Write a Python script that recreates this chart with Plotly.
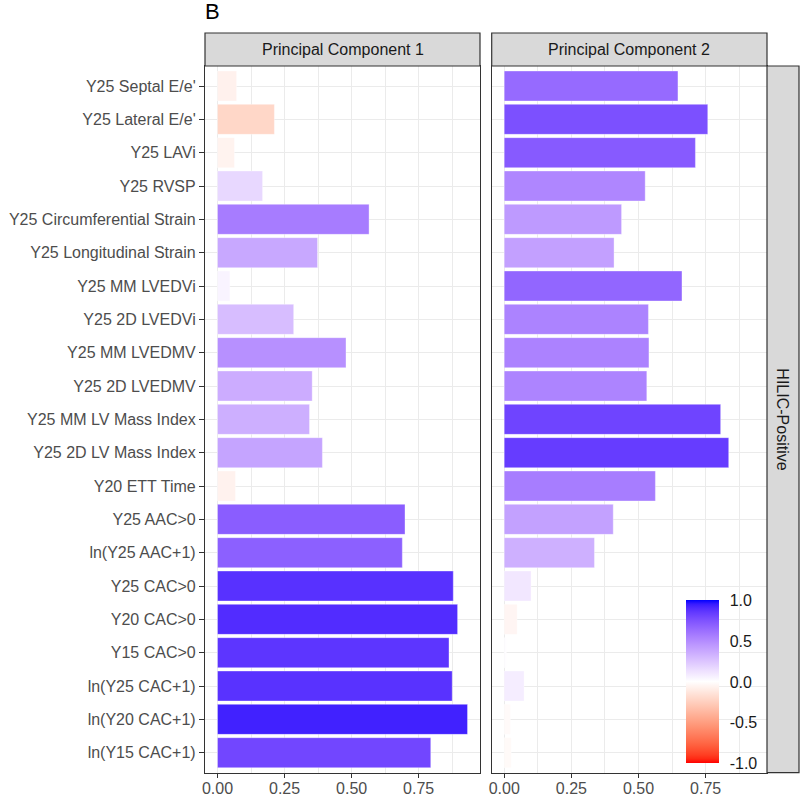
import plotly.graph_objects as go
import numpy as np

# loadings (signed; bar length = |loading|)
variables = ["Y25 Septal E/e'", "Y25 Lateral E/e'", "Y25 LAVi", "Y25 RVSP",
             "Y25 Circumferential Strain", "Y25 Longitudinal Strain",
             "Y25 MM LVEDVi", "Y25 2D LVEDVi", "Y25 MM LVEDMV", "Y25 2D LVEDMV",
             "Y25 MM LV Mass Index", "Y25 2D LV Mass Index", "Y20 ETT Time",
             "Y25 AAC>0", "ln(Y25 AAC+1)", "Y25 CAC>0", "Y20 CAC>0", "Y15 CAC>0",
             "ln(Y25 CAC+1)", "ln(Y20 CAC+1)", "ln(Y15 CAC+1)"]
pc1 = [-0.071, -0.212, -0.063, 0.168, 0.565, 0.373, 0.046, 0.284, 0.479, 0.353,
       0.343, 0.391, -0.067, 0.699, 0.689, 0.879, 0.895, 0.863, 0.875, 0.932, 0.795]
pc2 = [0.647, 0.758, 0.712, 0.525, 0.437, 0.409, 0.662, 0.537, 0.539, 0.531,
       0.806, 0.836, 0.563, 0.406, 0.336, 0.100, -0.048, 0.008, 0.074, -0.023, -0.026]
panels = ["Principal Component 1", "Principal Component 2"]
row_strip = "HILIC-Positive"
cbar_vals = [-1, -0.5, 0, 0.5, 1]
cbar_text = ["-1.0", "-0.5", "0.0", "0.5", "1.0"]
x_ticks = [0, 0.25, 0.5, 0.75]
x_text = ["0.00", "0.25", "0.50", "0.75"]

W, H = 800, 796
FONT = "Liberation Sans, Arial, sans-serif"


# red - white - blue gradient interpolated in Lab (like ggplot's gradient2)
def to_lab(rgb):
    c = np.array(rgb) / 255.0
    c = np.where(c > 0.04045, ((c + 0.055) / 1.055) ** 2.4, c / 12.92)
    m = np.array([[0.4124, 0.3576, 0.1805], [0.2126, 0.7152, 0.0722], [0.0193, 0.1192, 0.9505]])
    xyz = m @ c / np.array([0.95047, 1.0, 1.08883])
    f = np.where(xyz > 0.008856, np.cbrt(xyz), 7.787 * xyz + 16 / 116)
    return np.array([116 * f[1] - 16, 500 * (f[0] - f[1]), 200 * (f[1] - f[2])])


def from_lab(lab):
    fy = (lab[0] + 16) / 116
    f = np.array([fy + lab[1] / 500, fy, fy - lab[2] / 200])
    xyz = np.where(f ** 3 > 0.008856, f ** 3, (f - 16 / 116) / 7.787) * np.array([0.95047, 1.0, 1.08883])
    m = np.array([[3.2406, -1.5372, -0.4986], [-0.9689, 1.8758, 0.0415], [0.0557, -0.2040, 1.0570]])
    c = m @ xyz
    c = np.where(c > 0.0031308, 1.055 * np.clip(c, 0, None) ** (1 / 2.4) - 0.055, 12.92 * c)
    c = np.clip(c, 0, 1) * 255
    return "rgb(%d,%d,%d)" % tuple(np.round(c).astype(int))


red, white, blue = to_lab((255, 0, 0)), to_lab((255, 255, 255)), to_lab((0, 0, 255))
cscale = []
for s in np.linspace(0, 1, 41):
    if s < 0.5:
        lab = red + (white - red) * (s / 0.5)
    else:
        lab = white + (blue - white) * ((s - 0.5) / 0.5)
    cscale.append([float(s), from_lab(lab)])

# panel geometry (window pixels)
py0, py1 = 66, 772.7
p1x = (205, 480)
p2x = (491.7, 767)
strip_top = 33


def px(x):
    return x / W


def py(y):
    return 1 - y / H


fig = go.Figure()
fig.add_trace(go.Bar(
    y=variables, x=np.abs(pc1), orientation="h", xaxis="x", yaxis="y",
    marker=dict(color=pc1, colorscale=cscale, cmin=-1, cmax=1, showscale=True,
                line=dict(color="rgba(255,255,255,0.35)", width=1),
                colorbar=dict(x=px(685.7), xanchor="left", xpad=0, ypad=0,
                              y=py((600.7 + 763.3) / 2), yanchor="middle",
                              len=163 / H, lenmode="fraction", thickness=33,
                              outlinewidth=0, tickvals=cbar_vals, ticktext=cbar_text,
                              ticks="outside", ticklen=8, tickcolor="rgba(0,0,0,0)",
                              tickfont=dict(size=16, color="#1a1a1a", family=FONT))),
    hoverinfo="x+y", showlegend=False))
fig.add_trace(go.Bar(
    y=variables, x=np.abs(pc2), orientation="h", xaxis="x2", yaxis="y2",
    marker=dict(color=pc2, colorscale=cscale, cmin=-1, cmax=1, showscale=False,
                line=dict(color="rgba(255,255,255,0.35)", width=1)),
    hoverinfo="x+y", showlegend=False))

xr = [-0.0466, 0.9786]
yr = [len(variables) - 0.4, -0.6]
xcommon = dict(range=xr, tickvals=x_ticks, ticktext=x_text, showgrid=True,
               gridcolor="#EBEBEB", gridwidth=1.3, zeroline=False,
               minor=dict(tickvals=[0.125, 0.375, 0.625, 0.875], showgrid=True,
                          gridcolor="#EBEBEB", gridwidth=0.7, ticks=""),
               showline=True, mirror=True, linecolor="#333333", linewidth=1.2,
               ticks="outside", ticklen=4, tickwidth=1.2, tickcolor="#333333",
               ticklabelstandoff=-3,
               tickfont=dict(size=16, color="#4d4d4d", family=FONT),
               automargin=False, fixedrange=True)
ycommon = dict(range=yr, type="category", categoryorder="array", categoryarray=variables,
               showgrid=True, gridcolor="#EBEBEB", gridwidth=1.3, zeroline=False,
               showline=True, mirror=True, linecolor="#333333", linewidth=1.2,
               domain=[py(py1), py(py0)], automargin=False, fixedrange=True)

fig.update_layout(
    width=W, height=H, margin=dict(l=0, r=0, t=0, b=0),
    template="none", plot_bgcolor="white", paper_bgcolor="white",
    bargap=0.1, font=dict(family=FONT),
    xaxis=dict(domain=[px(p1x[0]), px(p1x[1])], anchor="y", **xcommon),
    xaxis2=dict(domain=[px(p2x[0]), px(p2x[1])], anchor="y2", **xcommon),
    yaxis=dict(anchor="x", ticks="outside", ticklen=5, tickwidth=1.2, tickcolor="#333333",
               tickfont=dict(size=16, color="#4d4d4d", family=FONT), **ycommon),
    yaxis2=dict(anchor="x2", ticks="", showticklabels=False, **ycommon),
)

# facet strips
shapes = []
ann = []
for name, (x0, x1) in zip(panels, [p1x, p2x]):
    shapes.append(dict(type="rect", xref="paper", yref="paper", x0=px(x0), x1=px(x1),
                       y0=py(py0), y1=py(strip_top), fillcolor="#D9D9D9",
                       line=dict(color="#333333", width=1.2)))
    ann.append(dict(text=name, xref="paper", yref="paper", x=px((x0 + x1) / 2),
                    y=py((strip_top + py0) / 2), showarrow=False, xanchor="center",
                    yanchor="middle", font=dict(size=16, color="#1a1a1a", family=FONT)))
shapes.append(dict(type="rect", xref="paper", yref="paper", x0=px(p2x[1]), x1=px(799),
                   y0=py(py1), y1=py(py0), fillcolor="#D9D9D9",
                   line=dict(color="#333333", width=1.2)))
ann.append(dict(text=row_strip, xref="paper", yref="paper", x=px((p2x[1] + 799) / 2),
                y=py((py0 + py1) / 2), textangle=90, showarrow=False, xanchor="center",
                yanchor="middle", font=dict(size=16, color="#1a1a1a", family=FONT)))
ann.append(dict(text="B", xref="paper", yref="paper", x=px(203), y=py(12), xanchor="left",
                yanchor="middle", showarrow=False, font=dict(size=22, color="black", family=FONT)))
fig.update_layout(shapes=shapes, annotations=ann)

# drop the page's default body margin so the figure fills the window
fig.write_html("out.html", config={"displayModeBar": False},
               post_script="document.body.style.margin='0';")
